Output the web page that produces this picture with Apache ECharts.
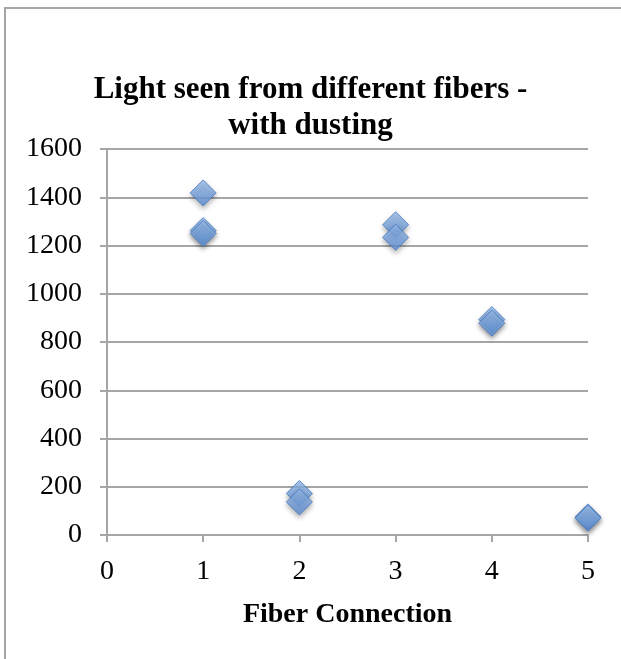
<!DOCTYPE html>
<html>
<head>
<meta charset="utf-8">
<script src="https://cdn.jsdelivr.net/npm/echarts@6/dist/echarts.min.js"></script>
<style>
html,body{margin:0;padding:0;background:#fff;}
#c{width:621px;height:659px;}
</style>
</head>
<body>
<div id="c"></div>
<script>
var fiberX = [1, 1, 1, 2, 2, 3, 3, 4, 4, 5, 5];
var lightY = [1418, 1262, 1250, 172, 137, 1286, 1234, 893, 878, 75, 70];
var yTicks = [0, 200, 400, 600, 800, 1000, 1200, 1400, 1600];
var xTicks = [0, 1, 2, 3, 4, 5];
var titleText = 'Light seen from different fibers -\nwith dusting';
var xTitle = 'Fiber Connection';

var points = fiberX.map(function (x, i) { return [x, lightY[i]]; });
var serif = 'Liberation Serif';
var chart = echarts.init(document.getElementById('c'));
chart.setOption({
  backgroundColor: '#fff',
  animation: false,
  graphic: [
    { type: 'polyline', shape: { points: [[5, 659], [5, 8], [621, 8]] },
      style: { stroke: '#a6a6a6', lineWidth: 2, fill: null } }
  ],
  title: {
    text: titleText,
    left: 'center',
    top: 67,
    textStyle: { fontFamily: serif, fontWeight: 'bold', fontSize: 31, lineHeight: 36, color: '#000' }
  },
  grid: { left: 107, right: 33, top: 149, bottom: 124, containLabel: false },
  xAxis: {
    type: 'value', min: 0, max: 5, interval: 1,
    name: xTitle, nameLocation: 'middle', nameGap: 66,
    nameTextStyle: { fontFamily: serif, fontWeight: 'bold', fontSize: 28, color: '#000' },
    axisLine: { show: true, lineStyle: { color: '#a6a6a6', width: 2 } },
    axisTick: { show: true, length: 7, lineStyle: { color: '#a6a6a6', width: 2 } },
    axisLabel: { fontFamily: serif, fontSize: 28, color: '#000', margin: 23,
      formatter: function (v) { return xTicks.indexOf(v) >= 0 ? String(v) : ''; } },
    splitLine: { show: false }
  },
  yAxis: {
    type: 'value', min: 0, max: 1600, interval: 200,
    axisLine: { show: true, lineStyle: { color: '#a6a6a6', width: 2 } },
    axisTick: { show: true, length: 7, lineStyle: { color: '#a6a6a6', width: 2 } },
    axisLabel: { fontFamily: serif, fontSize: 28, color: '#000', margin: 25,
      formatter: function (v) { return yTicks.indexOf(v) >= 0 ? String(v) : ''; } },
    splitLine: { show: true, lineStyle: { color: '#a6a6a6', width: 2 } }
  },
  series: [{
    type: 'scatter',
    data: points,
    symbol: 'diamond',
    symbolSize: [26, 26],
    itemStyle: {
      color: new echarts.graphic.LinearGradient(0, 0, 0, 1, [
        { offset: 0, color: '#9cc0ee' },
        { offset: 1, color: '#5a8ed5' }
      ]),
      borderColor: '#4277c0', borderWidth: 1,
      shadowColor: 'rgba(0,0,0,0.35)', shadowBlur: 5, shadowOffsetY: 3
    }
  }]
});
</script>
</body>
</html>
